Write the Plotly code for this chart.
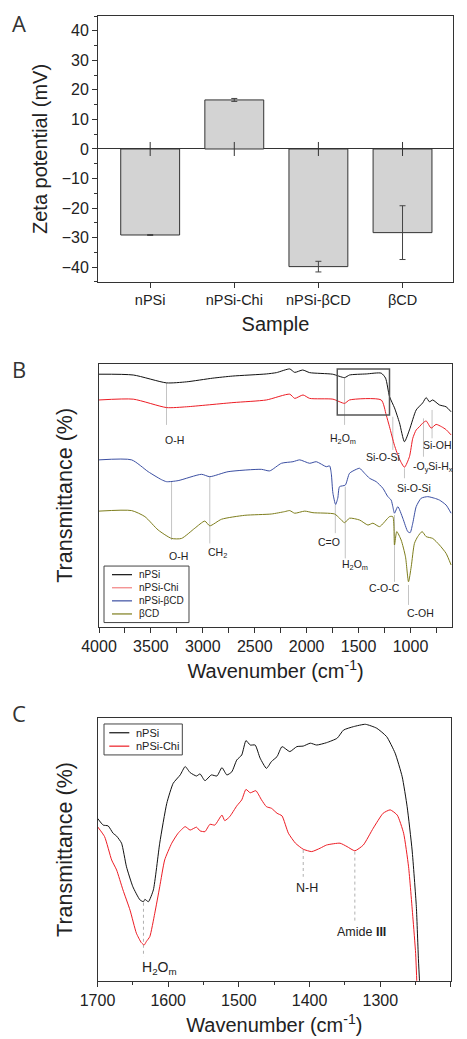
import plotly.graph_objects as go

# Panel A: zeta potential of the samples
samples = ['nPSi', 'nPSi-Chi', 'nPSi-βCD', 'βCD']
zeta = [-29.1, 16.6, -39.8, -28.3]
zeta_err = [0.15, 0.5, 1.8, 9.1]

# Panel B: FTIR spectra, 4000-600 cm-1 (transmittance, arbitrary offset units)
npsi_wn = [4000, 3670, 3349, 3157, 2904, 2712, 2388, 2291, 2163, 2115, 2038, 1971, 1750, 1635, 1587,
           1426, 1282, 1240, 1202, 1154, 1106, 1058, 1010, 945, 882, 849, 817, 786, 721, 657, 609]
npsi_t = [96.1, 95.8, 92.8, 93.2, 94.6, 95.4, 96.2, 96.7, 98.1, 96.8, 97.7, 96.7, 96.1, 94.8, 95.8,
          96.2, 96.5, 94.6, 87.6, 83.3, 77.6, 70.4, 74.9, 82.5, 85.2, 87.2, 85.6, 86.3, 84.4, 83.7, 81.8]

chi_wn = [4000, 3670, 3349, 3157, 2709, 2388, 2163, 2115, 2035, 1971, 1747, 1635, 1587, 1282, 1234,
          1202, 1154, 1106, 1058, 1010, 978, 945, 914, 882, 849, 801, 753, 700, 657, 609]
chi_t = [86.3, 86.6, 83.4, 83.7, 85.3, 86.3, 88.5, 86.9, 88.2, 86.9, 86.6, 85.0, 86.3, 86.3, 80.6,
         76.1, 69.0, 63.8, 60.7, 64.7, 71.7, 74.9, 76.1, 77.5, 78.3, 75.6, 77.0, 76.1, 75.0, 73.0]

bcd_npsi_wn = [4000, 3686, 3526, 3400, 3349, 3238, 3013, 2933, 2757, 2436, 2356, 2243, 2132, 2067, 1971,
               1907, 1811, 1779, 1763, 1747, 1721, 1700, 1683, 1628, 1587, 1522, 1490, 1442, 1394, 1330,
               1266, 1218, 1186, 1170, 1154, 1122, 1074, 1026, 1003, 978, 945, 897, 834, 769, 721, 657, 609]
bcd_npsi_t = [63.5, 63.5, 59.0, 56.0, 55.2, 55.6, 58.0, 57.1, 59.0, 59.9, 59.3, 62.2, 62.8, 63.5, 62.2,
              62.8, 60.9, 61.2, 58.4, 50.8, 46.5, 49.0, 53.3, 53.9, 58.4, 59.9, 60.3, 58.4, 56.5, 55.2,
              52.7, 49.5, 48.2, 45.7, 43.2, 45.7, 41.3, 36.2, 35.8, 39.4, 45.7, 48.9, 49.5, 48.9, 48.2, 46.3, 43.2]

bcd_wn = [4000, 3686, 3558, 3430, 3301, 3205, 3077, 2981, 2933, 2820, 2596, 2340, 2212, 2163, 2115,
          2019, 1939, 1731, 1683, 1635, 1587, 1490, 1410, 1362, 1298, 1202, 1170, 1154, 1132, 1090,
          1048, 1019, 993, 962, 930, 888, 849, 786, 721, 657, 609]
bcd_t = [44.0, 44.2, 41.9, 36.8, 33.6, 33.6, 37.5, 40.2, 38.4, 40.9, 42.4, 42.9, 43.8, 44.2, 43.2,
         44.0, 43.4, 42.9, 41.3, 39.6, 41.3, 40.6, 38.7, 39.4, 38.1, 41.9, 41.9, 31.1, 36.2, 33.0,
         26.6, 17.1, 22.8, 31.7, 34.3, 36.2, 34.3, 33.6, 31.1, 27.9, 23.5]

# Panel C: zoom 1700-1200 cm-1
c_npsi_wn = [1700, 1692, 1685, 1678, 1673, 1666, 1659, 1650, 1640, 1635, 1633, 1628, 1621, 1612, 1602,
             1593, 1583, 1576, 1569, 1560, 1555, 1548, 1539, 1531, 1524, 1517, 1510, 1503, 1496, 1490,
             1484, 1477, 1470, 1461, 1454, 1446, 1439, 1428, 1418, 1409, 1399, 1390, 1376, 1361, 1352,
             1338, 1321, 1305, 1291, 1279, 1269, 1262, 1255, 1249, 1246, 1244]
c_npsi_t = [61.9, 59.3, 59.0, 56.2, 55.1, 52.4, 43.4, 35.8, 30.8, 30.1, 31.0, 30.1, 34.6, 52.4, 67.6,
            75.2, 78.4, 81.6, 79.3, 78.0, 78.8, 76.2, 78.4, 78.0, 81.2, 78.4, 79.6, 84.1, 86.0, 91.5,
            89.8, 89.8, 84.8, 80.9, 83.5, 85.4, 89.2, 87.3, 89.2, 89.4, 90.5, 89.8, 90.7, 92.4, 95.5,
            96.8, 97.7, 96.2, 93.0, 86.7, 77.7, 66.3, 49.8, 28.2, 7.9, -3.0]

c_chi_wn = [1700, 1690, 1680, 1673, 1664, 1654, 1645, 1638, 1634, 1631, 1626, 1619, 1612, 1605, 1595,
            1586, 1576, 1569, 1560, 1555, 1548, 1541, 1534, 1524, 1520, 1513, 1503, 1496, 1490, 1484,
            1476, 1468, 1461, 1454, 1446, 1439, 1430, 1420, 1409, 1397, 1385, 1376, 1357, 1347, 1336,
            1324, 1310, 1296, 1286, 1276, 1267, 1260, 1254, 1250, 1248]
c_chi_t = [58.7, 54.9, 46.0, 42.2, 34.6, 26.9, 18.1, 14.5, 13.6, 14.9, 16.8, 25.7, 35.8, 46.0, 52.4,
           56.2, 58.7, 57.4, 58.5, 57.1, 56.8, 59.6, 59.3, 63.1, 61.0, 62.5, 66.6, 68.9, 72.9, 71.6,
           72.4, 68.9, 66.3, 65.7, 63.8, 62.8, 56.2, 52.4, 50.1, 49.2, 50.5, 51.7, 52.4, 51.1, 49.5,
           51.7, 58.1, 63.8, 65.1, 63.1, 56.2, 43.4, 24.4, 10.4, -3.0]

# band assignments: (wavenumber, line top, line bottom, label, label wavenumber, label y)
bands_b = [
    (3350, 92.8, 76.8, 'O-H', 3274, 71.1),
    (1635, 94.8, 76.8, 'H<sub>2</sub>O<sub>m</sub>', 1654, 71.4),
    (1170, 79.9, 67.3, 'Si-O-Si', 1260, 64.7),
    (875, 79.3, 64.7, '-O<sub>y</sub>Si-H<sub>x</sub>', 786, 60.9),
    (792, 82.5, 71.7, 'Si-OH', 737, 69.2),
    (1058, 60.3, 56.5, 'Si-O-Si', 962, 52.7),
    (3301, 55.2, 33.0, 'O-H', 3237, 27.0),
    (2933, 57.1, 31.7, 'CH<sub>2</sub>', 2862, 27.9),
    (1724, 46.3, 35.6, 'C=O', 1786, 32.4),
    (1628, 53.3, 26.0, 'H<sub>2</sub>O<sub>m</sub>', 1538, 23.5),
    (1154, 42.5, 17.1, 'C-O-C', 1253, 14.6),
    (1019, 15.9, 8.3, 'C-OH', 906, 5.3),
]
bands_c = [
    (1635, 29.7, 9.1, 'H<sub>2</sub>O<sub>m</sub>', 1612, 4.8, 14),
    (1409, 49.8, 39.6, 'N-H', 1403, 35.2, 12.5),
    (1336, 49.2, 22.5, 'Amide <b>III</b>', 1326, 18.4, 12.5),
]
zoom_box = (1705, 1202, 80.6, 98.1)

FONT = 'Liberation Sans, Arial, sans-serif'
BLACK, RED, BLUE, OLIVE = '#111111', '#ec1c24', '#3b4fa2', '#7d7d1c'
AX = '#333333'

fig = go.Figure()

# --- A ---
fig.add_trace(go.Bar(x=samples, y=zeta, width=0.7,
                     marker=dict(color='#d3d3d3', line=dict(color=AX, width=1)),
                     error_y=dict(type='data', array=zeta_err, color='#444', thickness=1, width=3),
                     showlegend=False, xaxis='x', yaxis='y'))
fig.add_trace(go.Scatter(x=samples, y=[0 for _ in samples], mode='markers',
                         marker=dict(symbol='line-ns', size=10, line=dict(color=AX, width=1)),
                         showlegend=False, hoverinfo='skip', xaxis='x', yaxis='y'))

# --- B ---
for wn, t, col in [(npsi_wn, npsi_t, BLACK), (chi_wn, chi_t, RED),
                   (bcd_npsi_wn, bcd_npsi_t, BLUE), (bcd_wn, bcd_t, OLIVE)]:
    fig.add_trace(go.Scatter(x=wn, y=t, mode='lines', line=dict(color=col, width=1, shape='spline', smoothing=0.6),
                             showlegend=False, xaxis='x2', yaxis='y2'))

# --- C ---
for wn, t, col in [(c_npsi_wn, c_npsi_t, BLACK), (c_chi_wn, c_chi_t, RED)]:
    fig.add_trace(go.Scatter(x=wn, y=t, mode='lines', line=dict(color=col, width=1, shape='spline', smoothing=0.5),
                             showlegend=False, xaxis='x3', yaxis='y3'))

shapes = []
annotations = []

for wn, y0, y1, lab, lx, ly in bands_b:
    shapes.append(dict(type='line', xref='x2', yref='y2', x0=wn, x1=wn, y0=y0, y1=y1,
                       line=dict(color='#c4c4c4', width=1), layer='below'))
    annotations.append(dict(xref='x2', yref='y2', x=lx, y=ly, text=lab, showarrow=False,
                            font=dict(family=FONT, size=10.5, color='#222')))
shapes.append(dict(type='rect', xref='x2', yref='y2', x0=zoom_box[0], x1=zoom_box[1],
                   y0=zoom_box[2], y1=zoom_box[3], line=dict(color='#555', width=1.5)))

for wn, y0, y1, lab, lx, ly, fs in bands_c:
    shapes.append(dict(type='line', xref='x3', yref='y3', x0=wn, x1=wn, y0=y0, y1=y1,
                       line=dict(color='#b0b0b0', width=1, dash='dot'), layer='below'))
    annotations.append(dict(xref='x3', yref='y3', x=lx, y=ly, text=lab, showarrow=False,
                            font=dict(family=FONT, size=fs, color='#222')))


def small_legend(names, colors, x0, x1, y_top, row_h, line_x, text_x, fs):
    y_bot = y_top - row_h * len(names) - 0.004
    shapes.append(dict(type='rect', xref='paper', yref='paper', x0=x0, x1=x1, y0=y_bot, y1=y_top,
                       line=dict(color='#444', width=1), fillcolor='white'))
    for i, (nm, col) in enumerate(zip(names, colors)):
        yy = y_top - row_h * (i + 0.5) - 0.002
        shapes.append(dict(type='line', xref='paper', yref='paper', x0=line_x[0], x1=line_x[1],
                           y0=yy, y1=yy, line=dict(color=col, width=1.2)))
        annotations.append(dict(xref='paper', yref='paper', x=text_x, y=yy, text=nm, showarrow=False,
                                xanchor='left', yanchor='middle', font=dict(family=FONT, size=fs, color='#222')))


small_legend(samples, [BLACK, '#f28080', BLUE, OLIVE], 0.2227, 0.4047, 0.4552, 0.0126,
             (0.2398, 0.2827), 0.2934, 10)
small_legend(samples[:2], [BLACK, RED], 0.2227, 0.3904, 0.3032, 0.0129,
             (0.2340, 0.2769), 0.2876, 11)

for letter, yy in [('A', 0.978), ('B', 0.6445), ('C', 0.3135)]:
    annotations.append(dict(xref='paper', yref='paper', x=0.021, y=yy, text=letter, showarrow=False,
                            xanchor='left', yanchor='middle',
                            font=dict(family='Open Sans, sans-serif', size=22, color='#333')))

axis_common = dict(showline=True, mirror=True, linecolor=AX, linewidth=1, showgrid=False,
                   zeroline=False, tickcolor=AX, automargin=False,
                   tickfont=dict(family=FONT, size=16, color='#222'))

fig.update_layout(
    template='none',
    width=467, height=1039, margin=dict(l=0, r=0, t=0, b=0, autoexpand=False),
    paper_bgcolor='white', plot_bgcolor='white',
    font=dict(family=FONT, color='#222'),
    xaxis=dict(axis_common, domain=[0.2099, 0.9700], range=[-0.62, 3.6], anchor='y',
               ticks='outside', ticklen=5, tickfont=dict(family=FONT, size=14.5, color='#222'),
               title=dict(text='Sample', font=dict(family=FONT, size=20), standoff=9)),
    yaxis=dict(axis_common, domain=[0.7286, 0.9846], range=[-45, 45], dtick=10, anchor='x',
               ticks='outside', ticklen=5, zeroline=True, zerolinecolor=AX, zerolinewidth=1,
               minor=dict(dtick=5, ticks='outside', ticklen=3, tickcolor=AX, showgrid=False),
               title=dict(text='Zeta potential (mV)', font=dict(family=FONT, size=20), standoff=8)),
    xaxis2=dict(axis_common, domain=[0.2120, 0.9679], range=[4000, 600], dtick=500, anchor='y2',
                ticks='outside', ticklen=5,
                minor=dict(dtick=250, ticks='outside', ticklen=5, tickcolor=AX, showgrid=False),
                title=dict(text='Wavenumber (cm<sup>-1</sup>)', font=dict(family=FONT, size=20), standoff=10)),
    yaxis2=dict(axis_common, domain=[0.3968, 0.6497], range=[0, 100], anchor='x2',
                ticks='', showticklabels=False,
                title=dict(text='Transmittance (%)', font=dict(family=FONT, size=21.5), standoff=19)),
    xaxis3=dict(axis_common, domain=[0.2088, 0.9657], range=[1700, 1200], dtick=100, anchor='y3',
                ticks='outside', ticklen=5,
                minor=dict(dtick=50, ticks='outside', ticklen=3, tickcolor=AX, showgrid=False),
                title=dict(text='Wavenumber (cm<sup>-1</sup>)', font=dict(family=FONT, size=20), standoff=10)),
    yaxis3=dict(axis_common, domain=[0.0561, 0.3087], range=[0, 100], anchor='x3',
                ticks='', showticklabels=False,
                title=dict(text='Transmittance (%)', font=dict(family=FONT, size=21.5), standoff=17)),
    shapes=shapes, annotations=annotations, bargap=0.3,
)

# the page's default body margin would shift the figure by 8 px
fig.write_html('out.html', config={'displayModeBar': False},
               post_script="document.body.style.margin='0px';")
